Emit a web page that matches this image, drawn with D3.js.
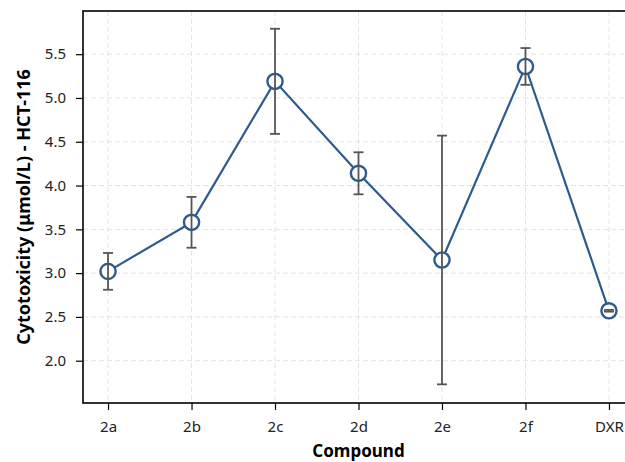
<!DOCTYPE html>
<html>
<head>
<meta charset="utf-8">
<script src="https://cdn.jsdelivr.net/npm/d3@7"></script>
<style>
  body { margin: 0; background: #fff; }
  text { font-family: "Noto Sans", "Open Sans", sans-serif; }
</style>
</head>
<body>
<div id="chart"></div>
<script>
// Data
const compounds = ['2a', '2b', '2c', '2d', '2e', '2f', 'DXR']
const cytotoxicity = [3.02, 3.58, 5.19, 4.14, 3.15, 5.36, 2.57]
const errors = [0.21, 0.29, 0.60, 0.24, 1.42, 0.21, 0.01]
const yTicks = [2.0, 2.5, 3.0, 3.5, 4.0, 4.5, 5.0, 5.5]

const dataset = compounds.map((c, i) => ({ name: c, i: i, value: cytotoxicity[i], err: errors[i] }))

// Dimensions
let dimensions = {
  width: 625,
  height: 462,
  margins: { top: 11, left: 83, right: -9, bottom: 59 }
}
dimensions.ctrWidth = dimensions.width - dimensions.margins.left - dimensions.margins.right
dimensions.ctrHeight = dimensions.height - dimensions.margins.top - dimensions.margins.bottom

const svg = d3.select('#chart')
  .append('svg')
  .attr('width', dimensions.width)
  .attr('height', dimensions.height)

const ctr = svg.append('g')
  .attr('transform', `translate(${dimensions.margins.left}, ${dimensions.margins.top})`)

// Scales
const xScale = d3.scaleLinear()
  .domain([-0.3, compounds.length - 1 + 0.3])
  .range([0, dimensions.ctrWidth])

const yScale = d3.scaleLinear()
  .domain([1.517, 5.993])
  .range([dimensions.ctrHeight, 0])

// Grid
ctr.append('g')
  .selectAll('line')
  .data(yTicks)
  .join('line')
  .attr('x1', 0)
  .attr('x2', dimensions.ctrWidth)
  .attr('y1', d => yScale(d))
  .attr('y2', d => yScale(d))
  .attr('stroke', '#e3e3e3')
  .attr('stroke-width', 1)
  .attr('stroke-dasharray', '5,3')

ctr.append('g')
  .selectAll('line')
  .data(dataset)
  .join('line')
  .attr('x1', d => xScale(d.i))
  .attr('x2', d => xScale(d.i))
  .attr('y1', 0)
  .attr('y2', dimensions.ctrHeight)
  .attr('stroke', '#e3e3e3')
  .attr('stroke-width', 1)
  .attr('stroke-dasharray', '5,3')

// Axes
const xAxis = d3.axisBottom(xScale)
  .tickValues(d3.range(compounds.length))
  .tickFormat(i => compounds[i])
  .tickSizeInner(7)
  .tickSizeOuter(0)
  .tickPadding(11)

const xAxisGroup = ctr.append('g')
  .attr('transform', `translate(0, ${dimensions.ctrHeight})`)
  .call(xAxis)

const yAxis = d3.axisLeft(yScale)
  .tickValues(yTicks)
  .tickFormat(d3.format('.1f'))
  .tickSizeInner(7)
  .tickSizeOuter(0)
  .tickPadding(10)

const yAxisGroup = ctr.append('g').call(yAxis)

;[xAxisGroup, yAxisGroup].forEach(g => {
  g.attr('font-size', null).attr('font-family', null)
  g.select('.domain').remove()
  g.selectAll('.tick line').attr('stroke', '#000').attr('stroke-width', 1.2)
  g.selectAll('.tick text')
    .attr('fill', '#222')
    .style('font-size', '15px')
    .style('font-family', '"Noto Sans", sans-serif')
})

// Frame
ctr.append('rect')
  .attr('width', dimensions.ctrWidth)
  .attr('height', dimensions.ctrHeight)
  .attr('fill', 'none')
  .attr('stroke', '#000')
  .attr('stroke-width', 1.6)

// Line
const line = d3.line()
  .x(d => xScale(d.i))
  .y(d => yScale(d.value))

ctr.append('path')
  .datum(dataset)
  .attr('d', line)
  .attr('fill', 'none')
  .attr('stroke', '#2d5b8f')
  .attr('stroke-width', 2.2)

// Markers
ctr.selectAll('circle')
  .data(dataset)
  .join('circle')
  .attr('cx', d => xScale(d.i))
  .attr('cy', d => yScale(d.value))
  .attr('r', 7.6)
  .attr('fill', '#fff')
  .attr('stroke', '#2d5b8f')
  .attr('stroke-width', 2.4)

// Error bars
const eb = ctr.append('g')
  .selectAll('g')
  .data(dataset)
  .join('g')
  .attr('stroke', '#555')
  .attr('stroke-width', 1.8)

eb.append('line')
  .attr('x1', d => xScale(d.i))
  .attr('x2', d => xScale(d.i))
  .attr('y1', d => yScale(d.value - d.err))
  .attr('y2', d => yScale(d.value + d.err))

eb.append('line')
  .attr('x1', d => xScale(d.i) - 5)
  .attr('x2', d => xScale(d.i) + 5)
  .attr('y1', d => yScale(d.value - d.err))
  .attr('y2', d => yScale(d.value - d.err))

eb.append('line')
  .attr('x1', d => xScale(d.i) - 5)
  .attr('x2', d => xScale(d.i) + 5)
  .attr('y1', d => yScale(d.value + d.err))
  .attr('y2', d => yScale(d.value + d.err))

// Labels
svg.append('text')
  .attr('x', dimensions.margins.left + dimensions.ctrWidth / 2)
  .attr('y', 457)
  .style('text-anchor', 'middle')
  .style('font-size', '17px')
  .style('font-weight', 'bold')
  .text('Compound')

svg.append('text')
  .attr('transform', `translate(24, ${dimensions.margins.top + dimensions.ctrHeight / 2}) rotate(-90)`)
  .attr('dy', '0.35em')
  .style('text-anchor', 'middle')
  .style('font-size', '18px')
  .style('font-weight', 'bold')
  .text('Cytotoxicity (μmol/L) - HCT-116')
</script>
</body>
</html>
